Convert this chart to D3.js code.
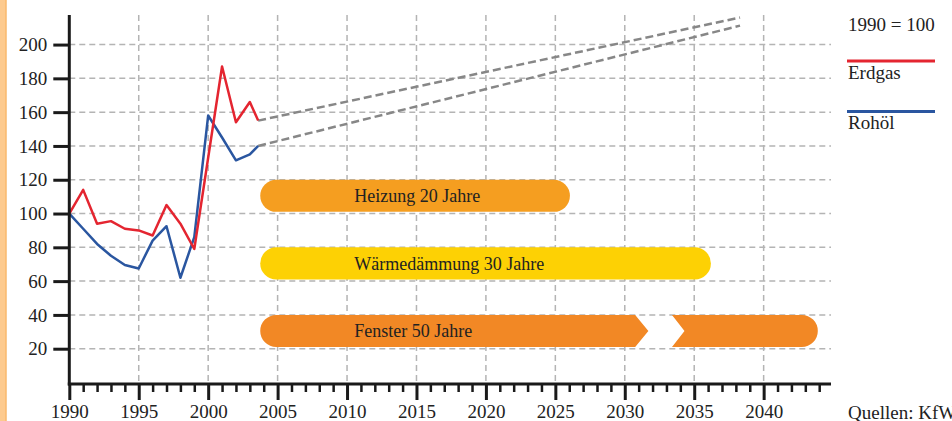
<!DOCTYPE html>
<html>
<head>
<meta charset="utf-8">
<script src="https://cdn.jsdelivr.net/npm/d3@7"></script>
<style>
  body { margin: 0; background: #fff; overflow: hidden; }
  text { font-family: "Liberation Serif", serif; fill: #222; }
</style>
</head>
<body>
<svg id="chart"></svg>
<script>
// price index, 1990 = 100
const years  = [1990, 1991, 1992, 1993, 1994, 1995, 1996, 1997, 1998, 1999, 2000, 2001, 2002, 2003, 2003.6];
const erdgas = [100, 114, 94, 95.5, 91, 90, 87, 105, 94, 79, 133, 187, 154, 166, 155];
const rohoel = [100, 91, 82, 75, 69.5, 67.5, 84, 92.5, 62, 86, 158, 145, 131.5, 135, 140];

// dashed trend after the last value
const trendYears  = [2003.6, 2038.3];
const trendErdgas = [155, 216];
const trendRohoel = [140, 211.2];

// lifetime bars
const barLabels = ["Heizung 20 Jahre", "Wärmedämmung 30 Jahre", "Fenster 50 Jahre"];
const barStart  = [2003.75, 2003.75, 2003.75];
const barEnd    = [2026.05, 2036.2, 2043.9];
const barLow    = [101, 61, 21];
const barHigh   = [120, 80, 40];
// break in the Fenster bar: arrow shoulder, arrow tip, notch edge, notch point
const fensterBreak = [2030.75, 2031.7, 2033.4, 2034.3];

const yTicks = [20, 40, 60, 80, 100, 120, 140, 160, 180, 200];
const xTicks = [1990, 1995, 2000, 2005, 2010, 2015, 2020, 2025, 2030, 2035, 2040];
const minorYears = d3.range(1990, 2045);

const width = 952, height = 421;
const svg = d3.select("#chart").attr("width", width).attr("height", height);

const x = d3.scaleLinear().domain([1990, 2044.85]).range([69.3, 831]);
const y = d3.scaleLinear().domain([0, 217.5]).range([382.5, 15]);
const axisY = y(0) + 1.5;

const red = "#e42530", blue = "#2a56a0", barColors = ["#f59e20", "#fdd104", "#f28825"];

// orange strip at the left edge
svg.append("rect").attr("x", 0).attr("y", 0).attr("width", 6).attr("height", height).attr("fill", "#fdca8e");
svg.append("line").attr("x1", 6).attr("x2", 6).attr("y1", 0).attr("y2", height)
    .attr("stroke", "#f8b86c").attr("stroke-width", 1.5);

// grid
const grid = svg.append("g").attr("stroke", "#b4b4b4").attr("stroke-width", 1.5).attr("stroke-dasharray", "6,4");
grid.selectAll(".h").data(yTicks).enter().append("line")
    .attr("x1", x(1990)).attr("x2", x.range()[1])
    .attr("y1", d => y(d)).attr("y2", d => y(d));
grid.selectAll(".v").data(xTicks.slice(1)).enter().append("line")
    .attr("x1", d => x(d)).attr("x2", d => x(d))
    .attr("y1", y.range()[1]).attr("y2", axisY);

// bars
const bars = svg.append("g");
[0, 1].forEach(i => {
  const h = y(barLow[i]) - y(barHigh[i]);
  bars.append("rect")
      .attr("x", x(barStart[i])).attr("y", y(barHigh[i]))
      .attr("width", x(barEnd[i]) - x(barStart[i])).attr("height", h)
      .attr("rx", h / 2).attr("fill", barColors[i]);
});
(function () {
  const top = y(barHigh[2]), bot = y(barLow[2]), mid = (top + bot) / 2, r = (bot - top) / 2;
  const x0 = x(barStart[2]), x1 = x(barEnd[2]);
  const [sh, tip, ne, np] = fensterBreak.map(x);
  let p = d3.path();
  p.moveTo(x0 + r, top); p.lineTo(sh, top); p.lineTo(tip, mid); p.lineTo(sh, bot);
  p.lineTo(x0 + r, bot); p.arc(x0 + r, mid, r, Math.PI / 2, 3 * Math.PI / 2); p.closePath();
  p.moveTo(ne, top); p.lineTo(x1 - r, top); p.arc(x1 - r, mid, r, -Math.PI / 2, Math.PI / 2);
  p.lineTo(ne, bot); p.lineTo(np, mid); p.closePath();
  bars.append("path").attr("d", p.toString()).attr("fill", barColors[2]);
})();
bars.selectAll("text").data(barLabels).enter().append("text")
    .attr("x", (d, i) => x(barStart[i]) + 94)
    .attr("y", (d, i) => (y(barLow[i]) + y(barHigh[i])) / 2 + 6.5)
    .attr("font-size", 18)
    .text(d => d);

// trend lines
const trend = svg.append("g").attr("stroke", "#878787").attr("stroke-width", 2.5)
    .attr("stroke-dasharray", "8,4").attr("fill", "none");
[trendErdgas, trendRohoel].forEach(vals => {
  trend.append("path")
      .attr("d", d3.line().x((d, i) => x(trendYears[i])).y(d => y(d))(vals));
});

// index lines
const line = d3.line().x((d, i) => x(years[i])).y(d => y(d));
svg.append("path").attr("d", line(rohoel)).attr("fill", "none")
    .attr("stroke", blue).attr("stroke-width", 2.5).attr("stroke-linejoin", "round");
svg.append("path").attr("d", line(erdgas)).attr("fill", "none")
    .attr("stroke", red).attr("stroke-width", 2.5).attr("stroke-linejoin", "round");

// y axis
const gy = svg.append("g").attr("transform", `translate(${x(1990)},0)`)
    .call(d3.axisLeft(y).tickValues(yTicks).tickSize(16).tickPadding(6).tickSizeOuter(0));
gy.select(".domain").remove();
gy.selectAll(".tick line").attr("stroke", "#1a1a1a").attr("stroke-width", 3);
gy.selectAll(".tick text").attr("font-size", 19).attr("font-family", "Liberation Serif").attr("fill", "#222");
svg.append("line").attr("x1", x(1990)).attr("x2", x(1990)).attr("y1", y.range()[1]).attr("y2", axisY + 1.5)
    .attr("stroke", "#1a1a1a").attr("stroke-width", 3);

// x axis
const gxMinor = svg.append("g").attr("transform", `translate(0,${axisY})`)
    .call(d3.axisBottom(x).tickValues(minorYears.filter(d => d % 5 !== 0)).tickSize(8).tickFormat(""));
gxMinor.select(".domain").remove();
gxMinor.selectAll(".tick line").attr("stroke", "#1a1a1a").attr("stroke-width", 2.5);

const gx = svg.append("g").attr("transform", `translate(0,${axisY})`)
    .call(d3.axisBottom(x).tickValues(xTicks).tickSize(16).tickPadding(5).tickFormat(d3.format("d")));
gx.select(".domain").remove();
gx.selectAll(".tick line").attr("stroke", "#1a1a1a").attr("stroke-width", 3);
gx.selectAll(".tick text").attr("font-size", 19).attr("font-family", "Liberation Serif").attr("fill", "#222");
svg.append("line").attr("x1", x(1990) - 1.5).attr("x2", x.range()[1]).attr("y1", axisY).attr("y2", axisY)
    .attr("stroke", "#1a1a1a").attr("stroke-width", 3);

// legend
const legend = svg.append("g").attr("transform", "translate(848,0)");
legend.append("text").attr("x", 0).attr("y", 31).attr("font-size", 19).text("1990 = 100");
legend.append("line").attr("x1", -1).attr("x2", 87).attr("y1", 61).attr("y2", 61)
    .attr("stroke", red).attr("stroke-width", 3);
legend.append("text").attr("x", 0).attr("y", 79).attr("font-size", 19).text("Erdgas");
legend.append("line").attr("x1", -1).attr("x2", 87).attr("y1", 111.5).attr("y2", 111.5)
    .attr("stroke", blue).attr("stroke-width", 3);
legend.append("text").attr("x", 0).attr("y", 129).attr("font-size", 19).text("Rohöl");

svg.append("text").attr("x", 848).attr("y", 419).attr("font-size", 19).text("Quellen: KfW");
</script>
</body>
</html>
